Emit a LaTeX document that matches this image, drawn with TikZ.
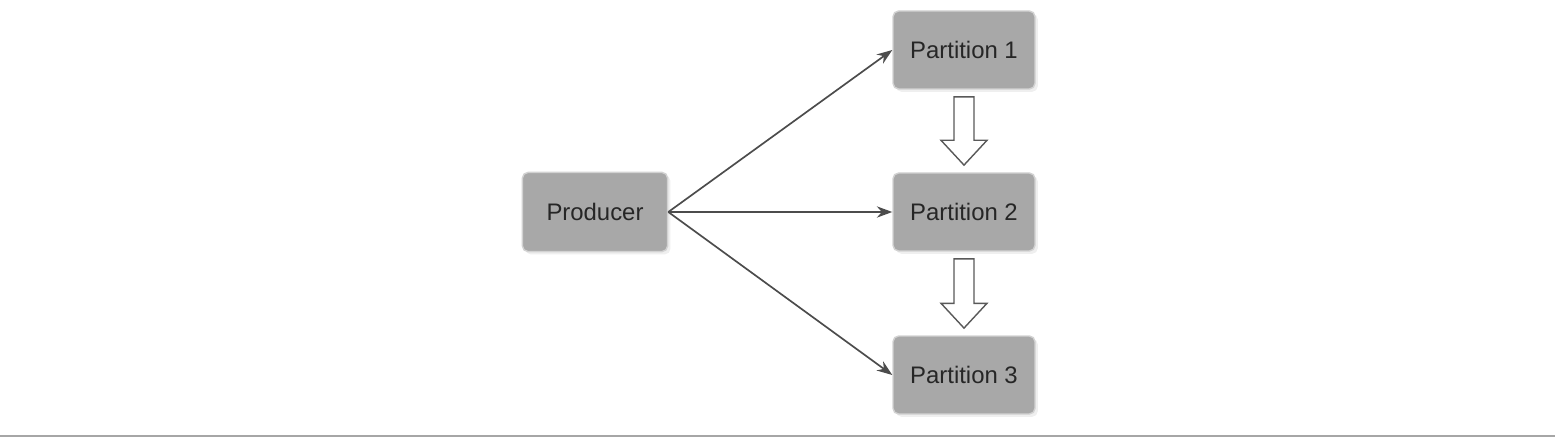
\documentclass[tikz,border=0pt]{standalone}
\usepackage{fontspec}
\setmainfont{Liberation Sans}
\usepackage{xcolor}
\usetikzlibrary{calc, shadows, arrows.meta}

\tikzset{
  box/.style={draw=gray!35, line width=1pt, fill=gray!68, rounded corners=4pt,
    minimum width=3.55cm, minimum height=1.95cm, font=\fontsize{17}{20}\selectfont,
    text=black!85, drop shadow={shadow xshift=2pt, shadow yshift=-2pt, fill=gray!25}},
  hollow/.style={draw=gray!70!black, line width=1pt, fill=white, line join=miter}
}

\begin{document}
\begin{tikzpicture}
\useasboundingbox (0,0) rectangle (38.875,-10.975);
\node[box, minimum width=3.63cm, minimum height=1.98cm] (prod) at (14.875,-5.3) {Producer};
\node[box] (p1) at (24.1,-1.25) {Partition 1};
\node[box] (p2) at (24.1,-5.3) {Partition 2};
\node[box] (p3) at (24.1,-9.375) {Partition 3};
\draw[-{Stealth[length=11pt,width=8pt]}, line width=1.2pt, color=black!70] (prod.east)--(p1.west);
\draw[-{Stealth[length=11pt,width=8pt]}, line width=1.2pt, color=black!70] (prod.east)--(p2.west);
\draw[-{Stealth[length=11pt,width=8pt]}, line width=1.2pt, color=black!70] (prod.east)--(p3.west);
\foreach \a/\b in {p1/p2,p2/p3}
  \draw[hollow] ($(\a.south)+(-0.25,-0.18)$) -- ($(\b.north)+(-0.25,0.8)$)
    -- ($(\b.north)+(-0.575,0.8)$) -- ($(\b.north)+(0,0.18)$)
    -- ($(\b.north)+(0.575,0.8)$) -- ($(\b.north)+(0.25,0.8)$)
    -- ($(\a.south)+(0.25,-0.18)$) -- cycle;
\draw[gray!70, line width=1.2pt] (0,-10.9)--(38.875,-10.9);
\end{tikzpicture}
\end{document}
